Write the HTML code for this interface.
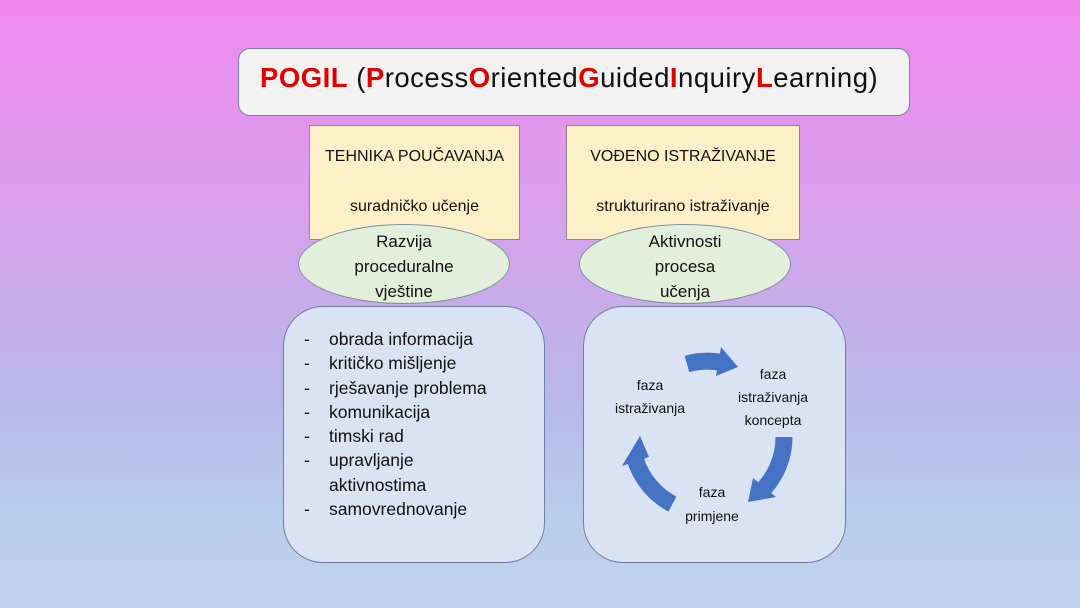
<!DOCTYPE html>
<html><head><meta charset="utf-8"><style>
body{margin:0;width:1080px;height:608px;overflow:hidden;font-family:"Liberation Sans",sans-serif;
background:linear-gradient(180deg,#f088f0 0%,#d8a0ec 35%,#b8b8e8 65%,#b8cdec 85%,#c2d4ee 100%);position:relative}
.a{position:absolute;box-sizing:border-box}
.t{position:absolute;white-space:nowrap;color:#111}
.r{color:#e00000;font-weight:bold}
</style></head><body>
<div class="a" style="left:238px;top:48px;width:672px;height:68px;background:#f2f2f2;border:1px solid #7a7fa8;border-radius:12px"></div>
<div class="t" style="left:260px;top:62px;font-size:27.5px;letter-spacing:0.5px;color:#111">
<span class="r">POGIL</span> (<span class="r">P</span>rocess<span class="r">O</span>riented<span class="r">G</span>uided<span class="r">I</span>nquiry<span class="r">L</span>earning)</div>

<div class="a" style="left:309px;top:125px;width:211px;height:115px;background:#fdf0c8;border:1px solid #8a8a8a"></div>
<div class="a" style="left:566px;top:125px;width:234px;height:115px;background:#fdf0c8;border:1px solid #8a8a8a"></div>
<div class="t" style="left:309px;width:211px;text-align:center;top:148px;font-size:16px">TEHNIKA POUČAVANJA</div>
<div class="t" style="left:309px;width:211px;text-align:center;top:198px;font-size:16px">suradničko učenje</div>
<div class="t" style="left:566px;width:234px;text-align:center;top:148px;font-size:16px">VOĐENO ISTRAŽIVANJE</div>
<div class="t" style="left:566px;width:234px;text-align:center;top:198px;font-size:16px">strukturirano istraživanje</div>

<div class="a" style="left:298px;top:224px;width:212px;height:80px;border-radius:50%;background:#e2efda;border:1px solid #7f8f9f"></div>
<div class="a" style="left:579px;top:224px;width:212px;height:80px;border-radius:50%;background:#e2efda;border:1px solid #7f8f9f"></div>
<div class="t" style="left:298px;width:212px;text-align:center;top:229px;font-size:17px;line-height:25px">Razvija<br>proceduralne<br>vještine</div>
<div class="t" style="left:579px;width:212px;text-align:center;top:229px;font-size:17px;line-height:25px">Aktivnosti<br>procesa<br>učenja</div>

<div class="a" style="left:283px;top:306px;width:262px;height:257px;border-radius:40px;background:#dae3f3;border:1px solid #6f7f9f"></div>
<div class="a" style="left:583px;top:306px;width:263px;height:257px;border-radius:40px;background:#dae3f3;border:1px solid #6f7f9f"></div>

<div class="t" style="left:304px;top:327px;font-size:17.5px;line-height:24.3px">-<br>-<br>-<br>-<br>-<br>-<br><br>-</div>
<div class="t" style="left:329px;top:327px;font-size:17.5px;line-height:24.3px">obrada informacija<br>kritičko mišljenje<br>rješavanje problema<br>komunikacija<br>timski rad<br>upravljanje<br>aktivnostima<br>samovrednovanje</div>

<svg class="a" style="left:0;top:0" width="1080" height="608">
<g fill="none" stroke="#4472c4" stroke-width="17">
<path d="M687,364 A76,76 0 0 1 719,362"/>
<path d="M784,437 A76,76 0 0 1 764.5,487.9"/>
<path d="M672.4,504.1 A76,76 0 0 1 635.7,460.5"/>
</g>
<g fill="#4472c4">
<polygon points="716,376 721,347 738,367"/>
<polygon points="753,478 776,497 748,502"/>
<polygon points="649,457 622,466 640,436"/>
</g>
<g font-size="14" fill="#111" text-anchor="middle" font-family="Liberation Sans,sans-serif">
<text x="650" y="390">faza</text><text x="650" y="413">istraživanja</text>
<text x="773" y="379">faza</text><text x="773" y="402">istraživanja</text><text x="773" y="425">koncepta</text>
<text x="712" y="497">faza</text><text x="712" y="521">primjene</text>
</g>
</svg>
</body></html>
